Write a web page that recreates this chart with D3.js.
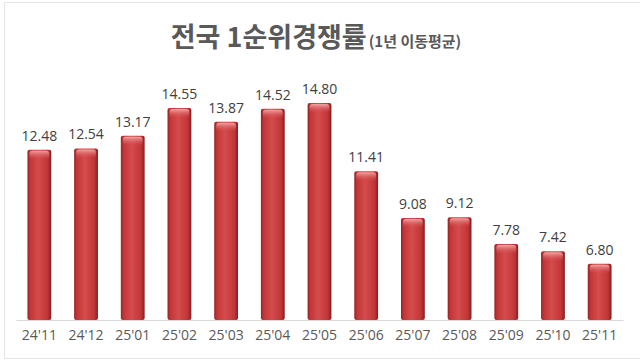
<!DOCTYPE html>
<html>
<head>
<meta charset="utf-8">
<script src="https://cdn.jsdelivr.net/npm/d3@7"></script>
<style>
	body { margin: 0; background: #fff; }
	svg text { font-family: "Noto Sans CJK KR", "Open Sans", sans-serif; }
</style>
</head>
<body>
<div id="chart"></div>
<script>
var months = ["24'11", "24'12", "25'01", "25'02", "25'03", "25'04", "25'05", "25'06", "25'07", "25'08", "25'09", "25'10", "25'11"];
var rates = [12.48, 12.54, 13.17, 14.55, 13.87, 14.52, 14.80, 11.41, 9.08, 9.12, 7.78, 7.42, 6.80];

var width = 640, height = 360;

var svg = d3.select("#chart").append("svg")
	.attr("width", width)
	.attr("height", height);

// faint frame like the screenshot
svg.append("rect")
	.attr("x", 4.5).attr("y", 2.5)
	.attr("width", 640).attr("height", 356)
	.attr("fill", "none")
	.attr("stroke", "#e4e4e4");

var defs = svg.append("defs");
var body = defs.append("linearGradient").attr("id", "barBody")
	.attr("x1", "0%").attr("x2", "100%").attr("y1", "0%").attr("y2", "0%");
body.append("stop").attr("offset", "0%").attr("stop-color", "#932426");
body.append("stop").attr("offset", "12%").attr("stop-color", "#c43638");
body.append("stop").attr("offset", "45%").attr("stop-color", "#d44c4d");
body.append("stop").attr("offset", "85%").attr("stop-color", "#c23537");
body.append("stop").attr("offset", "100%").attr("stop-color", "#821e20");

var cap = defs.append("linearGradient").attr("id", "barCap")
	.attr("x1", "0%").attr("x2", "0%").attr("y1", "0%").attr("y2", "100%");
cap.append("stop").attr("offset", "0%").attr("stop-color", "#f2a4a4");
cap.append("stop").attr("offset", "100%").attr("stop-color", "#d44c4d").attr("stop-opacity", 0);

var x = d3.scaleBand()
	.domain(months)
	.range([16, 623])
	.paddingInner(0.49)
	.paddingOuter(0.245);

var y = d3.scaleLinear()
	.domain([4, 16])
	.range([320, 79]);

// title
var title = svg.append("text")
	.attr("x", 316)
	.attr("y", 47)
	.attr("text-anchor", "middle")
	.attr("fill", "#595959");
title.append("tspan")
	.attr("font-size", 27)
	.attr("font-weight", "bold")
	.text("전국 1순위경쟁률");
title.append("tspan")
	.attr("font-size", 15)
	.attr("font-weight", "bold")
	.attr("dx", 2)
	.text("(1년 이동평균)");

var bars = svg.append("g").selectAll("g")
	.data(rates)
	.enter()
	.append("g");

bars.append("rect")
	.attr("x", function(d, i) { return x(months[i]); })
	.attr("y", function(d) { return y(d); })
	.attr("width", x.bandwidth())
	.attr("height", function(d) { return y.range()[0] - y(d); })
	.attr("rx", 2)
	.attr("fill", "url(#barBody)");

bars.append("rect")
	.attr("x", function(d, i) { return x(months[i]) + 2; })
	.attr("y", function(d) { return y(d) + 1; })
	.attr("width", x.bandwidth() - 4)
	.attr("height", 9)
	.attr("rx", 3)
	.attr("fill", "url(#barCap)");

bars.append("text")
	.attr("x", function(d, i) { return x(months[i]) + x.bandwidth() / 2; })
	.attr("y", function(d) { return y(d) - 9; })
	.attr("text-anchor", "middle")
	.attr("font-size", 14)
	.attr("fill", "#404040")
	.style("font-family", "'Open Sans', sans-serif")
	.text(function(d) { return d.toFixed(2); });

// x axis
var xAxis = svg.append("g")
	.attr("transform", "translate(0,320)")
	.call(d3.axisBottom(x).tickSize(0).tickPadding(10));
xAxis.select(".domain").attr("stroke", "#d9d9d9");
xAxis.selectAll("text")
	.attr("font-size", 14)
	.attr("fill", "#595959")
	.style("font-family", "'Open Sans', sans-serif");
</script>
</body>
</html>
